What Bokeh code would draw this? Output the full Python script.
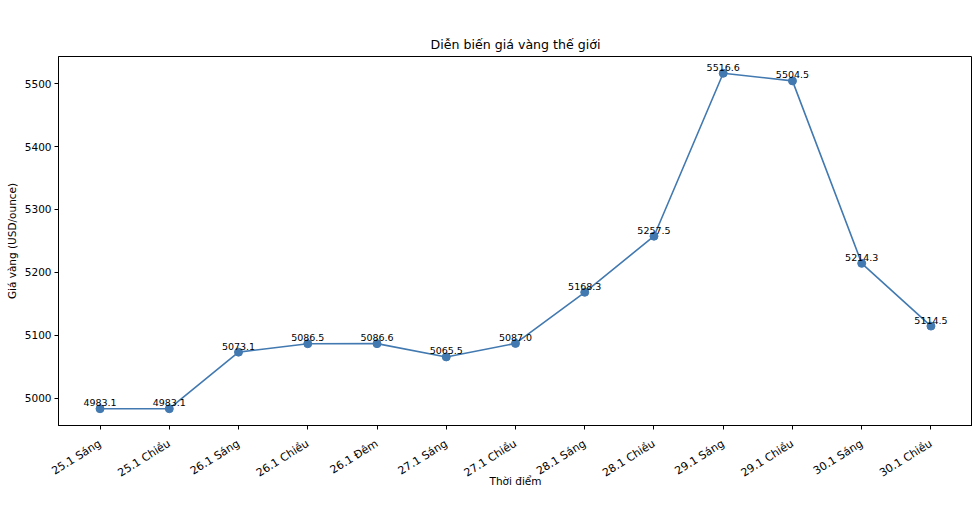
from bokeh.plotting import figure
from bokeh.models import Range1d, FixedTicker, ColumnDataSource
from bokeh.core.properties import value
from bokeh.embed import file_html
from bokeh.resources import INLINE
import math

categories = ["25.1 Sáng", "25.1 Chiều", "26.1 Sáng", "26.1 Chiều", "26.1 Đêm",
              "27.1 Sáng", "27.1 Chiều", "28.1 Sáng", "28.1 Chiều", "29.1 Sáng",
              "29.1 Chiều", "30.1 Sáng", "30.1 Chiều"]
prices = [4983.1, 4983.1, 5073.1, 5086.5, 5086.6, 5065.5, 5087.0, 5168.3,
          5257.5, 5516.6, 5504.5, 5214.3, 5114.5]
y_ticks = [5000, 5100, 5200, 5300, 5400, 5500]

FONT = "DejaVu Sans"
idx = list(range(len(categories)))
src = ColumnDataSource(dict(x=idx, y=prices, lbl=[f"{v:.1f}" for v in prices]))

pad_x = 0.05 * (len(categories) - 1)
span_y = max(prices) - min(prices)
p = figure(width=972, height=494, output_backend="svg", toolbar_location=None,
           x_range=Range1d(-pad_x, len(categories) - 1 + pad_x),
           y_range=Range1d(min(prices) - 0.05 * span_y, max(prices) + 0.05 * span_y),
           title="Diễn biến giá vàng thế giới")
p.min_border_left = 58
p.min_border_right = 0
p.min_border_top = 56
p.min_border_bottom = 60
p.frame_width = 914
p.frame_height = 369

p.title.align = "center"
p.title.text_font = FONT
p.title.text_font_size = "12.6px"
p.title.text_font_style = "normal"
p.title.text_color = "black"

p.xgrid.visible = False
p.ygrid.visible = False
p.outline_line_color = "black"
p.outline_line_width = 1
p.outline_line_alpha = 1

p.xaxis.ticker = FixedTicker(ticks=idx)
p.xaxis.major_label_overrides = {i: c for i, c in zip(idx, categories)}
p.xaxis.major_label_orientation = math.radians(32)
p.yaxis.ticker = FixedTicker(ticks=y_ticks)
p.xaxis.axis_label = "Thời điểm"
p.yaxis.axis_label = "Giá vàng (USD/ounce)"
for ax in (p.xaxis, p.yaxis):
    ax.axis_label_text_font = FONT
    ax.axis_label_text_font_size = "10.5px"
    ax.axis_label_text_font_style = "normal"
    ax.axis_label_text_color = "black"
    ax.major_label_text_font = FONT
    ax.major_label_text_font_size = "10.5px"
    ax.major_label_text_color = "black"
    ax.axis_line_color = "black"
    ax.major_tick_line_color = "black"
    ax.major_tick_in = 0
    ax.major_tick_out = 4
    ax.minor_tick_line_color = None
    ax.major_label_standoff = 3
    ax.axis_label_standoff = 4
p.xaxis.major_label_text_font_size = "11px"
p.xaxis.major_label_standoff = 13
p.xaxis.axis_label_standoff = -13

color = "#4279b0"
p.line("x", "y", source=src, line_color=color, line_width=1.6)
p.scatter("x", "y", source=src, size=8, fill_color=color, line_color=color)
p.text("x", "y", text="lbl", source=src, text_align="center", text_baseline="alphabetic",
       y_offset=-6, text_font=value(FONT), text_font_size="9.5px", text_color="black")

open("out.html", "w").write(file_html(p, INLINE))
